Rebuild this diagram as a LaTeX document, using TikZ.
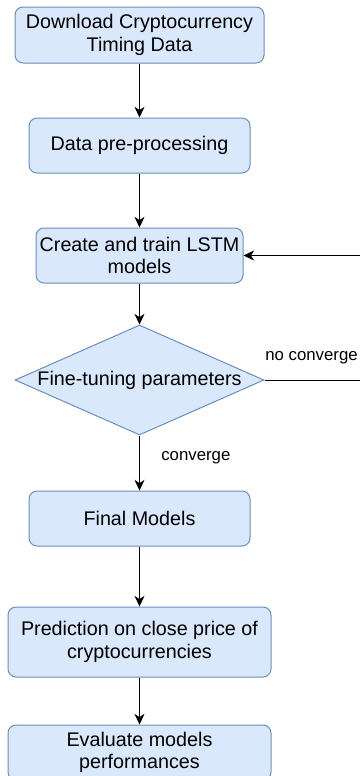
\documentclass[tikz,border=0pt]{standalone}
\usepackage{fontspec}
\setmainfont{Liberation Sans}
\usetikzlibrary{shapes.geometric,arrows.meta}

\definecolor{boxfill}{HTML}{DAE8FC}
\definecolor{boxline}{HTML}{6C8EBF}

\begin{document}
\begin{tikzpicture}[x=0.75pt,y=-0.75pt,
    stepbox/.style={draw=boxline,fill=boxfill,rounded corners=6pt,line width=0.75pt,
      align=center,inner sep=0pt,font=\fontsize{14.8}{16.8}\selectfont},
    choice/.style={draw=boxline,fill=boxfill,diamond,aspect=2.26,line width=0.75pt,
      inner sep=0pt,minimum width=186.75pt,minimum height=82.5pt,
      font=\fontsize{14.8}{16.8}\selectfont},
    arr/.style={-{Stealth[length=8pt,width=7.5pt,inset=2.5pt]},line width=0.75pt},
    lbl/.style={font=\fontsize{12.6}{14}\selectfont,inner sep=0pt,anchor=west}]
  \useasboundingbox (0,0) rectangle (360,776);

  \node[stepbox,minimum width=186.75pt,minimum height=42pt] (dl) at (139.5,35)
    {Download Cryptocurrency\\Timing Data};
  \node[stepbox,minimum width=165.75pt,minimum height=41.25pt] (pre) at (139.5,145.5)
    {Data pre-processing};
  \node[stepbox,minimum width=155.25pt,minimum height=41.25pt] (lstm) at (139.5,255.5)
    {Create and train LSTM\\models};
  \node[choice] (tune) at (139.5,380) {Fine-tuning parameters};
  \node[stepbox,minimum width=165.75pt,minimum height=41.25pt] (final) at (139.5,518.5)
    {Final Models};
  \node[stepbox,minimum width=197.25pt,minimum height=52.5pt] (pred) at (139.5,642)
    {Prediction on close price of\\cryptocurrencies};
  \node[stepbox,minimum width=197.25pt,minimum height=41.25pt] (eval) at (139.5,752.5)
    {Evaluate models\\performances};

  \coordinate (loop) at (367,318);

  \draw[arr] (tune) -- (final) node[lbl,pos=0.4,xshift=16pt] {converge};
  \draw[arr] (dl) -- (pre);
  \draw[arr] (pre) -- (lstm);
  \draw[arr] (lstm) -- (tune);
  \draw[arr] (tune.east) -| (loop) |- (lstm.east);
  \node[lbl] (nc) at (265,358) {no converge};
  \draw[arr] (final) -- (pred);
  \draw[arr] (pred) -- (eval);
\end{tikzpicture}
\end{document}
